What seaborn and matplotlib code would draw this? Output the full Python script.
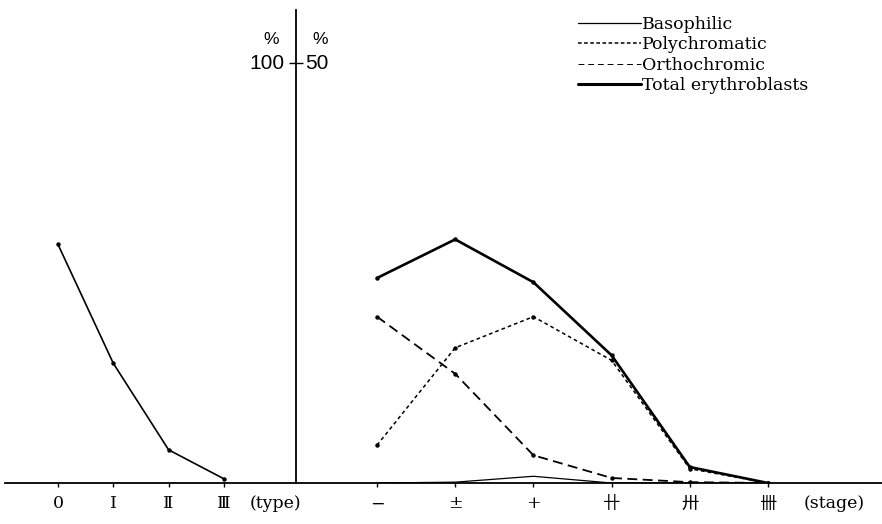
import matplotlib
matplotlib.use("Agg")
import matplotlib.pyplot as plt
import matplotlib.transforms as mtrans
from matplotlib.lines import Line2D
import numpy as np
import pandas as pd
import seaborn as sns

sns.set_theme(style="white")
plt.rcParams["font.family"] = ["DejaVu Serif", "Noto Sans CJK JP"]
plt.rcParams["text.color"] = "black"
plt.rcParams["xtick.color"] = "black"
plt.rcParams["ytick.color"] = "black"

# Left panel: erythroblast percentage by type
type_labels = ["0", "I", "Ⅱ", "Ⅲ"]
type_values = [56.8, 28.5, 7.9, 1.0]

# Right panel: erythroblast fractions by stage
stage_labels = ["−", "±", "+", "卄", "卅", "卌"]
basophilic = [0.0, 0.1, 0.8, 0.0, 0.0, 0.0]
polychromatic = [4.5, 16.1, 19.8, 14.6, 1.7, 0.0]
orthochromic = [19.8, 13.0, 3.3, 0.6, 0.1, 0.0]
total = [24.4, 29.0, 23.9, 15.2, 1.9, 0.0]

series_names = ["Basophilic", "Polychromatic", "Orthochromic", "Total erythroblasts"]
series_values = [basophilic, polychromatic, orthochromic, total]

W, H = 882, 524
fig = plt.figure(figsize=(W / 100, H / 100), dpi=100)
fig.patch.set_facecolor("white")

base_px = 483
top_px = 10
tick_px = 63
axis_px = 296

ax_l = fig.add_axes([5 / W, (H - base_px) / H, (axis_px - 5) / W, (base_px - top_px) / H])
ax_r = fig.add_axes([axis_px / W, (H - base_px) / H, (W - axis_px) / W, (base_px - top_px) / H])

# category spacing in pixels
step_l = 55.3
first_l = 58
step_r = 78.2
first_r = 377

ax_l.set_xlim((5 - first_l) / step_l, (axis_px - first_l) / step_l)
ax_r.set_xlim((axis_px - first_r) / step_r, (W - first_r) / step_r)
scale = (base_px - top_px) / (base_px - tick_px)
ax_l.set_ylim(0, 100 * scale)
ax_r.set_ylim(0, 50 * scale)

for ax in (ax_l, ax_r):
    ax.set_facecolor("none")
    for s in ax.spines.values():
        s.set_visible(False)
    ax.spines["bottom"].set_visible(True)
    ax.spines["bottom"].set_color("black")
    ax.spines["bottom"].set_linewidth(1.3)
    ax.grid(False)

ax_l.spines["right"].set_visible(True)
ax_l.spines["right"].set_color("black")
ax_l.spines["right"].set_linewidth(1.3)

# left panel line
df_type = pd.DataFrame({"pos": np.arange(len(type_labels)), "value": type_values})
sns.lineplot(data=df_type, x="pos", y="value", ax=ax_l, color="black", linewidth=1.2,
             marker="o", markersize=3.2, markeredgewidth=0, legend=False)

# right panel lines
rows = []
for name, vals in zip(series_names, series_values):
    for i, v in enumerate(vals):
        rows.append({"pos": i, "value": v, "series": name})
df_stage = pd.DataFrame(rows)

styles = {
    "Basophilic": dict(lw=0.9, dashes=None, marker=False),
    "Polychromatic": dict(lw=1.1, dashes=(2.4, 2.0), marker=True),
    "Orthochromic": dict(lw=1.3, dashes=(5.5, 3.0), marker=True),
    "Total erythroblasts": dict(lw=1.9, dashes=None, marker=True),
}
for name in series_names:
    st = styles[name]
    sub = df_stage[df_stage["series"] == name]
    kw = dict(data=sub, x="pos", y="value", ax=ax_r, color="black",
              linewidth=st["lw"], legend=False)
    if st["marker"]:
        kw.update(marker="o", markersize=3.2, markeredgewidth=0)
    sns.lineplot(**kw)
    if st["dashes"] is not None:
        ax_r.lines[-1].set_dashes(st["dashes"])

# ticks and tick labels
ax_l.set_xticks(np.arange(len(type_labels)))
ax_l.set_xticklabels(type_labels, fontsize=12.5)
ax_r.set_xticks(np.arange(len(stage_labels)))
ax_r.set_xticklabels(stage_labels, fontsize=12.5)
for ax in (ax_l, ax_r):
    ax.tick_params(axis="x", direction="out", length=3, width=1, color="black",
                   pad=6, labelcolor="black", bottom=True)
    ax.set_xlabel("")
    ax.set_ylabel("")

ax_l.yaxis.tick_right()
ax_l.set_yticks([100])
ax_l.tick_params(axis="y", direction="inout", length=10, width=1, color="black",
                 labelright=False, right=True, left=False)
ax_r.set_yticks([])

# axis captions after the last category
lab_y = -20 / (base_px - top_px)
ax_l.text(3.47, lab_y, "(type)", transform=ax_l.get_xaxis_transform(),
          ha="left", va="center", fontsize=12.5, color="black")
ax_r.text(5.45, lab_y, "(stage)", transform=ax_r.get_xaxis_transform(),
          ha="left", va="center", fontsize=12.5, color="black")

# value scale labels beside the vertical axis
tl = mtrans.blended_transform_factory(ax_l.transAxes, ax_l.transData)
tr = mtrans.blended_transform_factory(ax_r.transAxes, ax_r.transData)
ax_l.text(1 - 11 / (axis_px - 5), 100, "100", transform=tl, ha="right", va="center",
          fontsize=15, family="Liberation Sans", color="black")
ax_r.text(9 / (W - axis_px), 50, "50", transform=tr, ha="left", va="center",
          fontsize=15, family="Liberation Sans", color="black")
ax_l.text(1 - 25 / (axis_px - 5), 105.6, "%", transform=tl, ha="center", va="center",
          fontsize=12.5, family="Liberation Sans", color="black")
ax_r.text(24 / (W - axis_px), 52.8, "%", transform=tr, ha="center", va="center",
          fontsize=12.5, family="Liberation Sans", color="black")

# legend
handles = [
    Line2D([], [], color="black", lw=0.9),
    Line2D([], [], color="black", lw=1.1, dashes=(2.4, 1.6)),
    Line2D([], [], color="black", lw=0.7, dashes=(6, 4)),
    Line2D([], [], color="black", lw=2.2),
]
leg = fig.legend(handles, series_names, loc="upper left", bbox_to_anchor=(578 / W, 1 - 16 / H),
                 frameon=False, fontsize=12.5, handlelength=3.6, handletextpad=0.1,
                 labelspacing=0.2, borderpad=0, borderaxespad=0)
for t in leg.get_texts():
    t.set_color("black")

fig.savefig("out.png", dpi=100, facecolor="white")
